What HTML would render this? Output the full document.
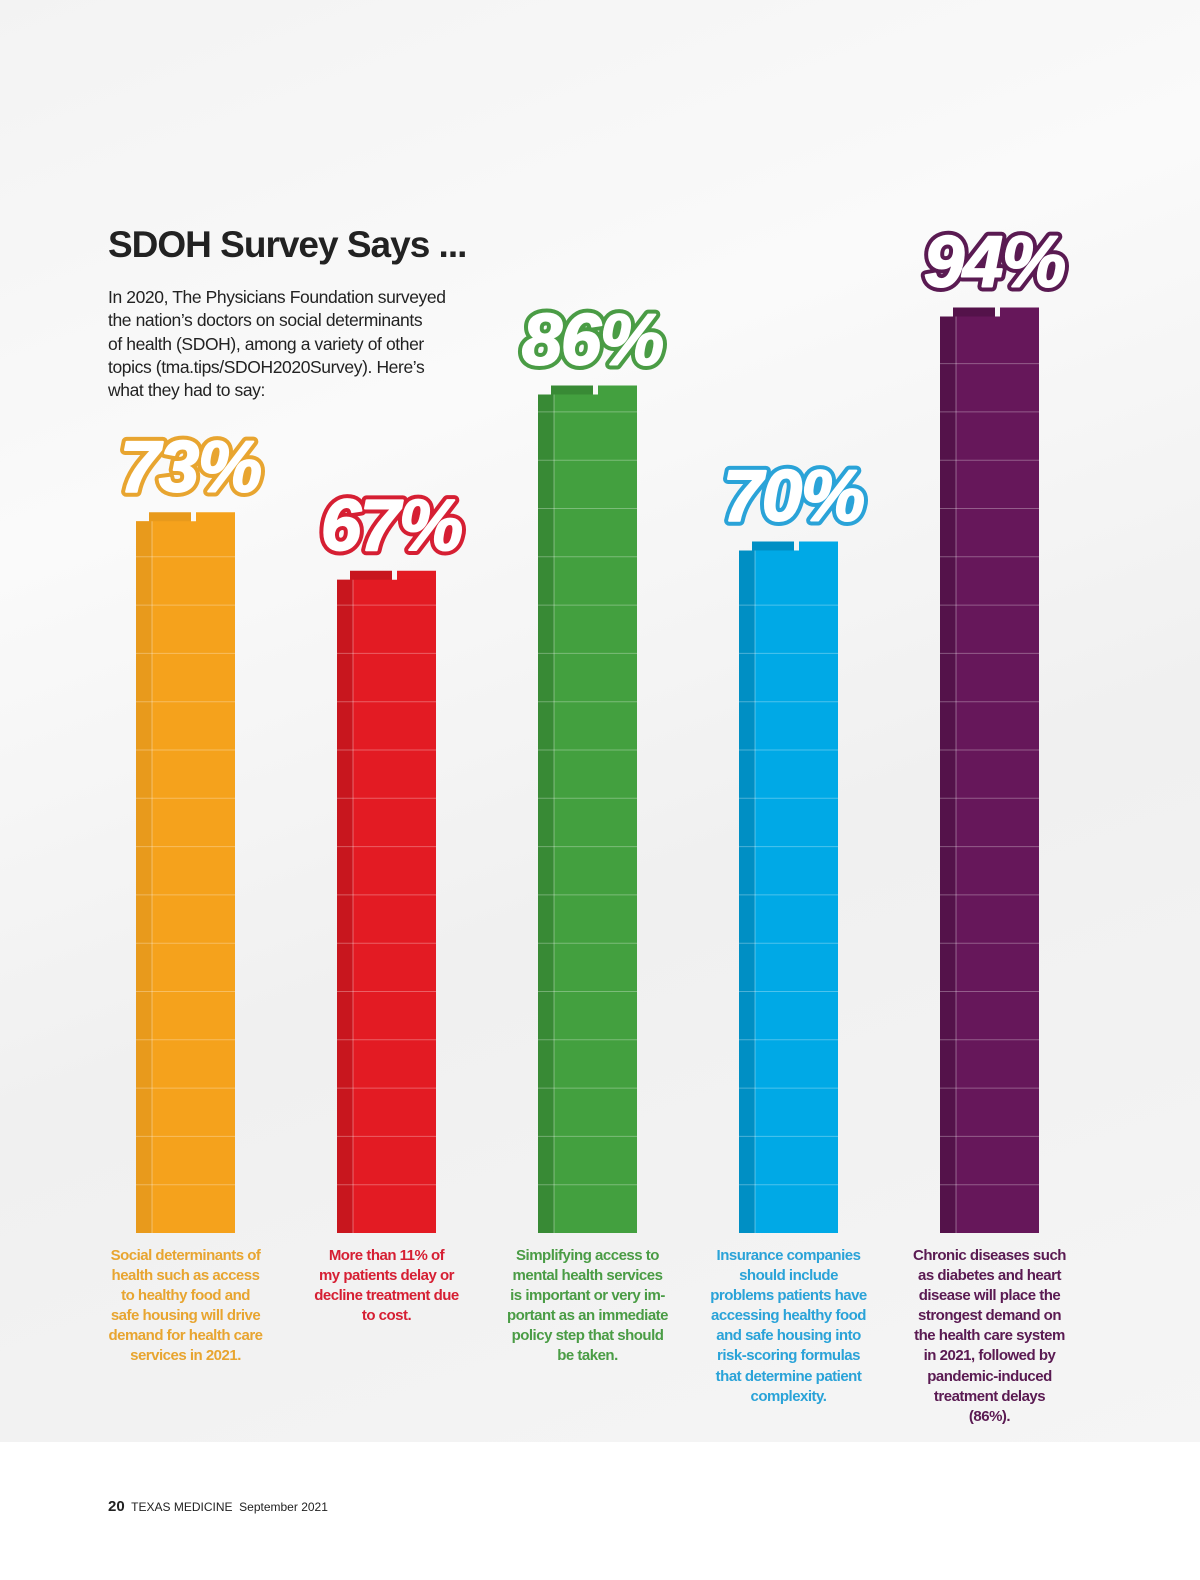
<!DOCTYPE html>
<html><head><meta charset="utf-8">
<style>
body{margin:0;width:1200px;height:1580px;position:relative;overflow:hidden;font-family:"Liberation Sans",sans-serif;background:#fff}
#bg{position:absolute;left:0;top:0;width:1200px;height:1442px;background:linear-gradient(160deg,#f3f3f3 0%,#fafafa 30%,#f0f0f0 60%,#f5f5f5 100%)}
h1{position:absolute;left:108px;top:224px;margin:0;font-size:37px;font-weight:bold;color:#222;letter-spacing:-1px}
#intro{position:absolute;left:108px;top:286px;width:420px;font-size:17.5px;line-height:23.3px;color:#222;letter-spacing:-0.4px;white-space:nowrap}
.cap{position:absolute;top:1246px;width:200px;text-align:center;font-size:15px;font-weight:bold;line-height:20.1px;letter-spacing:-0.5px;white-space:pre-line}
#footer{position:absolute;left:108px;top:1498px;font-size:12px;color:#222}
</style></head><body>
<div id="bg"></div>
<h1>SDOH Survey Says ...</h1>
<div id="intro">In 2020, The Physicians Foundation surveyed<br>the nation’s doctors on social determinants<br>of health (SDOH), among a variety of other<br>topics (tma.tips/SDOH2020Survey). Here’s<br>what they had to say:</div>
<svg id="chart" width="1200" height="1580" style="position:absolute;left:0;top:0"></svg>
<div id="labels"></div>
<div id="footer"><b style="font-size:15px">20</b>&nbsp; TEXAS MEDICINE&nbsp; September 2021</div>
<script>
const categories=["sdoh-demand","cost-delay","mental-health","insurance","chronic-disease"];
const values=[73,67,86,70,94];
const valueLabels=["73%","67%","86%","70%","94%"];
const colors=["#f5a21c","#e31b23","#43a03f","#00a9e6","#66175a"];
const darks=["#e89a1c","#c8161e","#388a35","#008fc4","#54124a"];
const textColors=["#e8a530","#d61f33","#4a9c45","#2aa3d8","#5a1a52"];
const captions=["Social determinants of\nhealth such as access\nto healthy food and\nsafe housing will drive\ndemand for health care\nservices in 2021.","More than 11% of\nmy patients delay or\ndecline treatment due\nto cost.","Simplifying access to\nmental health services\nis important or very im-\nportant as an immediate\npolicy step that should\nbe taken.","Insurance companies\nshould include\nproblems patients have\naccessing healthy food\nand safe housing into\nrisk-scoring formulas\nthat determine patient\ncomplexity.","Chronic diseases such\nas diabetes and heart\ndisease will place the\nstrongest demand on\nthe health care system\nin 2021, followed by\npandemic-induced\ntreatment delays\n(86%)."];
const base=1233, pxPer=9.75, x0=136, pitch=201, bw=99;
function xPos(i){return x0+i*pitch}
function yPos(v){return base-v*pxPer}
const svg=document.getElementById('chart'), NS="http://www.w3.org/2000/svg";
const labels=document.getElementById('labels');
function mk(tag,attrs){const e=document.createElementNS(NS,tag);for(const k in attrs)e.setAttribute(k,attrs[k]);return e}
values.forEach((v,i)=>{
  const x=xPos(i), top=yPos(v);
  const g=mk('g',{});
  
  
  g.appendChild(mk('rect',{x:x+13,y:top-9,width:42,height:10,fill:darks[i]}));
  g.appendChild(mk('rect',{x:x+60,y:top-9,width:39,height:10,fill:colors[i]}));
  g.appendChild(mk('rect',{x:x,y:top,width:bw,height:base-top,fill:colors[i]}));
  g.appendChild(mk('rect',{x:x,y:top,width:16,height:base-top,fill:darks[i]}));
  g.appendChild(mk('line',{x1:x+16,y1:top,x2:x+16,y2:base,stroke:'rgba(255,255,255,0.35)','stroke-width':1}));
  for(let y=base-48.3;y>top+10;y-=48.3){
    g.appendChild(mk('line',{x1:x,y1:y,x2:x+bw,y2:y,stroke:'rgba(255,255,255,0.3)','stroke-width':1}));
  }
  svg.appendChild(g);
  const cx=x+bw/2+5, ty=top-30;
  const lg=mk('g',{});
  
  
  const common={x:cx,y:ty,'text-anchor':'middle','font-family':'Liberation Sans, sans-serif','font-weight':'bold','font-style':'italic','font-size':72,'letter-spacing':-1};
  const t1=mk('text',Object.assign({},common,{fill:textColors[i],stroke:textColors[i],'stroke-width':10,'stroke-linejoin':'round'}));
  t1.textContent=valueLabels[i];
  const t2=mk('text',Object.assign({},common,{fill:'#fff',stroke:'#fff','stroke-width':2,'stroke-linejoin':'round'}));
  t2.textContent=valueLabels[i];
  lg.appendChild(t1);lg.appendChild(t2);
  svg.appendChild(lg);
  const c=document.createElement('div');
  c.className='cap';
  
  
  c.style.left=(x+bw/2-100)+'px';
  c.style.color=textColors[i];
  c.textContent=captions[i];
  labels.appendChild(c);
});
</script>
</body></html>
